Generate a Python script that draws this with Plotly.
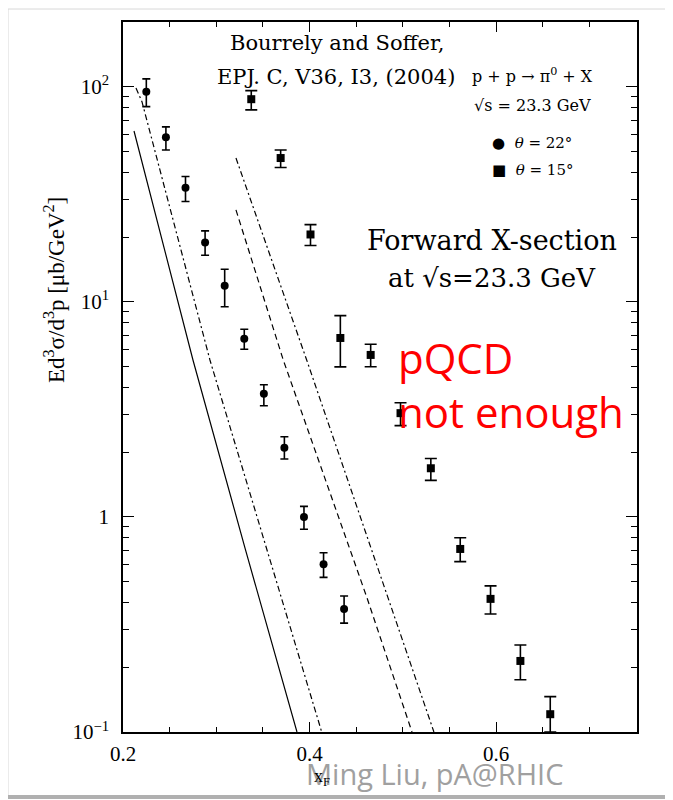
import plotly.graph_objects as go

# ---------------- data ----------------
# theta = 22 deg (circles)
xf_22 = [0.225, 0.246, 0.267, 0.288, 0.309, 0.330, 0.351, 0.373, 0.394, 0.415, 0.437]
sig_22 = [95.0, 58.3, 34.0, 18.9, 11.9, 6.75, 3.74, 2.10, 1.00, 0.603, 0.373]
hi_22 = [109.0, 65.2, 38.3, 21.4, 14.2, 7.46, 4.12, 2.36, 1.12, 0.682, 0.429]
lo_22 = [81.0, 50.9, 29.3, 16.5, 9.5, 6.03, 3.29, 1.86, 0.877, 0.524, 0.321]

# theta = 15 deg (squares)
xf_15 = [0.3375, 0.369, 0.401, 0.433, 0.4655, 0.4975, 0.530, 0.5615, 0.594, 0.626, 0.658]
sig_15 = [87.7, 46.7, 20.6, 6.8, 5.67, 3.04, 1.685, 0.710, 0.416, 0.214, 0.121]
hi_15 = [96.1, 50.9, 22.9, 8.64, 6.36, 3.40, 1.87, 0.801, 0.478, 0.254, 0.146]
lo_15 = [78.2, 42.2, 18.3, 4.99, 5.00, 2.66, 1.48, 0.620, 0.354, 0.175, 0.100]

# pQCD curves
solid_x = [0.2118, 0.2750, 0.3308, 0.3865]
solid_y = [62.4, 5.37, 0.717, 0.1]
dashdot_a_x = [0.2139, 0.2204, 0.2932, 0.4130]
dashdot_a_y = [98.9, 85.2, 5.37, 0.1]
dashdot_b_x = [0.3211, 0.3969, 0.5333]
dashdot_b_y = [46.7, 5.37, 0.1]
dashed_x = [0.3211, 0.3718, 0.4612, 0.5098]
dashed_y = [26.8, 5.37, 0.425, 0.1]

x_tickvals = [0.2, 0.4, 0.6]
x_ticktext = ["0.2", "0.4", "0.6"]
x_minor = [0.25, 0.3, 0.35, 0.45, 0.5, 0.55, 0.65, 0.7]
y_tickvals = [0.1, 1, 10, 100]
y_ticktext = ["10<sup>\u22121</sup>", "1", "10<sup>1</sup>", "10<sup>2</sup>"]
y_minor = [m * d for d in (0.1, 1, 10) for m in range(2, 10)] + [200]

# ---------------- layout helpers ----------------
OFF = 8  # page body margin
W, H = 665, 792
L, T = 123 - OFF, 22 - OFF
PW, PH = 514, 710
R = W - L - PW
B = H - T - PH


def px_x(px):
    return (px - OFF - L) / PW


def px_y(py):
    return (T + PH - (py - OFF)) / PH


fig = go.Figure()

line_style = dict(color="black", width=1.2)
fig.add_trace(go.Scatter(x=solid_x, y=solid_y, mode="lines",
                         line=dict(**line_style, dash="solid"), showlegend=False))
fig.add_trace(go.Scatter(x=dashdot_a_x, y=dashdot_a_y, mode="lines",
                         line=dict(**line_style, dash="6px,3px,2px,3px"), showlegend=False))
fig.add_trace(go.Scatter(x=dashdot_b_x, y=dashdot_b_y, mode="lines",
                         line=dict(**line_style, dash="6px,3px,2px,3px"), showlegend=False))
fig.add_trace(go.Scatter(x=dashed_x, y=dashed_y, mode="lines",
                         line=dict(**line_style, dash="6px,4px"), showlegend=False))

fig.add_trace(go.Scatter(
    x=xf_22, y=sig_22, mode="markers",
    marker=dict(symbol="circle", size=8, color="black"),
    error_y=dict(type="data", symmetric=False,
                 array=[h - v for h, v in zip(hi_22, sig_22)],
                 arrayminus=[v - l for l, v in zip(lo_22, sig_22)],
                 color="black", thickness=1.6, width=4),
    showlegend=False))
fig.add_trace(go.Scatter(
    x=xf_15, y=sig_15, mode="markers",
    marker=dict(symbol="square", size=8, color="black"),
    error_y=dict(type="data", symmetric=False,
                 array=[h - v for h, v in zip(hi_15, sig_15)],
                 arrayminus=[v - l for l, v in zip(lo_15, sig_15)],
                 color="black", thickness=1.6, width=6),
    showlegend=False))

serif = "DejaVu Serif"
tex = "Liberation Serif"

fig.update_xaxes(
    range=[0.2, 0.751], showline=True, linecolor="black", linewidth=1.5, mirror="ticks",
    ticks="inside", ticklen=10, tickwidth=1.3, tickcolor="black",
    tickmode="array", tickvals=x_tickvals, ticktext=x_ticktext,
    minor=dict(tickmode="array", tickvals=x_minor, ticks="inside", ticklen=5,
               tickwidth=1.3, tickcolor="black"),
    tickfont=dict(family=tex, size=21, color="black"), ticklabelstandoff=2,
    showgrid=False, zeroline=False)
fig.update_yaxes(
    type="log", range=[-1, 2.302], showline=True, linecolor="black", linewidth=1.5,
    mirror="ticks", ticks="inside", ticklen=11, tickwidth=1.3, tickcolor="black",
    tickmode="array", tickvals=y_tickvals, ticktext=y_ticktext,
    minor=dict(tickmode="array", tickvals=y_minor, ticks="inside", ticklen=6,
               tickwidth=1.3, tickcolor="black"),
    tickfont=dict(family=tex, size=21, color="black"), ticklabelstandoff=8,
    showgrid=False, zeroline=False)

ann = []


def add_text(px, py, text, size, family, color="black", xanchor="center", angle=0):
    ann.append(dict(x=px_x(px), y=px_y(py), xref="paper", yref="paper", text=text,
                    showarrow=False, xanchor=xanchor, yanchor="middle", textangle=angle,
                    font=dict(family=family, size=size, color=color)))


add_text(337, 43, "Bourrely and Soffer,", 21, serif)
add_text(336, 77, "EPJ. C, V36, I3, (2004)", 21, serif)
add_text(532, 75, "p + p \u2192 \u03c0<sup>0</sup> + X", 16, serif)
add_text(532, 106, "\u221as = 23.3 GeV", 16, serif)
add_text(490, 143, "\u25cf  <i>\u03b8</i> = 22\u00b0", 15, serif, xanchor="left")
add_text(490, 170, "\u25a0  <i>\u03b8</i> = 15\u00b0", 15, serif, xanchor="left")
add_text(492, 240, "Forward X-section", 27, serif)
add_text(492, 278, "at \u221as=23.3 GeV", 26, serif)
add_text(396, 357, "pQCD", 42, "Open Sans", color="#ff0000", xanchor="left")
add_text(396, 412, "not enough", 42, "Open Sans", color="#ff0000", xanchor="left")
add_text(54, 290, "Ed<sup>3</sup>\u03c3/d<sup>3</sup>p [\u03bcb/GeV<sup>2</sup>]", 23, tex, angle=-90)
add_text(434, 773, "Ming Liu, pA@RHIC", 29, "Open Sans", color="#a0a0a0")
add_text(322, 778, "x<sub>F</sub>", 18, tex)

fig.update_layout(
    width=W, height=H, margin=dict(l=L, r=R, t=T, b=B),
    paper_bgcolor="white", plot_bgcolor="white", annotations=ann,
    shapes=[
        dict(type="rect", xref="paper", yref="paper", layer="below",
             x0=px_x(8), x1=px_x(671), y0=px_y(796), y1=px_y(9),
             line=dict(color="#d8d8d8", width=1)),
        dict(type="line", xref="paper", yref="paper",
             x0=px_x(8), x1=px_x(671), y0=px_y(797), y1=px_y(797),
             line=dict(color="#b0b0b0", width=4)),
    ])

fig.write_html("out.html")
